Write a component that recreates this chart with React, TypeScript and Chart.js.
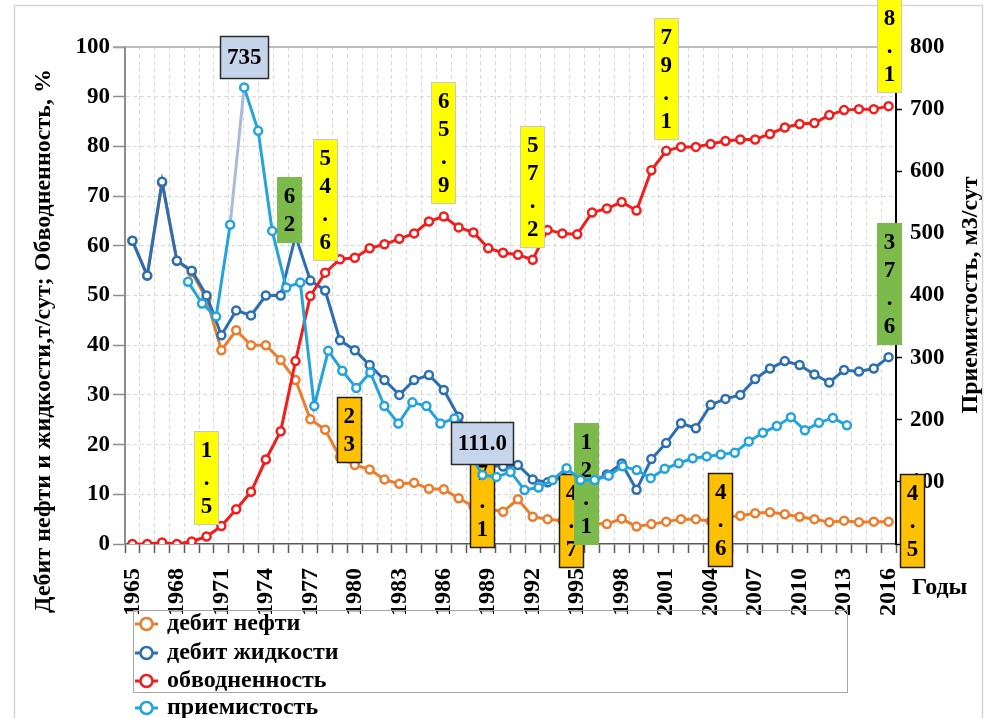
import React, { useEffect, useRef } from 'react';
import { Chart, registerables } from 'chart.js';

Chart.register(...registerables);

// ---------------- data ----------------
const YEARS = [
  '1965', '1966', '1967', '1968', '1969', '1970', '1971', '1972', '1973', '1974',
  '1975', '1976', '1977', '1978', '1979', '1980', '1981', '1982', '1983', '1984',
  '1985', '1986', '1987', '1988', '1989', '1990', '1991', '1992', '1993', '1994',
  '1995', '1996', '1997', '1998', '1999', '2000', '2001', '2002', '2003', '2004',
  '2005', '2006', '2007', '2008', '2009', '2010', '2011', '2012', '2013', '2014',
  '2015', '2016',
];

// secondary (hidden) category axis used by the injectivity series
const INJ_SLOTS = [
  '1', '2', '3', '4', '5', '6', '7', '8', '9', '10',
  '11', '12', '13', '14', '15', '16', '17', '18', '19', '20',
  '21', '22', '23', '24', '25', '26', '27', '28', '29', '30',
  '31', '32', '33', '34', '35', '36', '37', '38', '39', '40',
  '41', '42', '43', '44', '45', '46', '47', '48', '49', '50',
  '51', '52', '53', '54', '55',
];

const OIL_RATE = [
  61, 54, 72.7, 57, 54.7, 49.3, 39, 43, 40, 40,
  37, 33, 25.1, 23, 17.5, 15.9, 15, 13, 12.1, 12.3,
  11.1, 11, 9.2, 7.6, 7.1, 6.5, 9, 5.5, 5, 4.7,
  4.6, 4.2, 4, 5.1, 3.5, 4, 4.5, 5, 5, 4.6,
  5.4, 5.7, 6.2, 6.4, 6, 5.5, 5, 4.4, 4.7, 4.4,
  4.5, 4.5,
];

const LIQUID_RATE = [
  61, 54, 72.9, 57, 55, 50, 42, 47, 46, 50,
  50, 62, 53, 51, 41, 39, 36, 33, 30, 33,
  34, 31, 25.6, 20.5, 15.8, 15.6, 15.9, 13, 12.4, 13.5,
  12.1, 12.5, 14, 16.2, 10.9, 17.1, 20.3, 24.3, 23.3, 28,
  29.2, 30, 33.2, 35.3, 36.8, 36, 34.1, 32.5, 35, 34.7,
  35.3, 37.6,
];

const WATER_CUT = [
  0, 0, 0.3, 0, 0.5, 1.5, 3.6, 7, 10.5, 17,
  22.7, 36.8, 49.9, 54.6, 57.3, 57.6, 59.5, 60.3, 61.4, 62.5,
  64.9, 65.9, 63.7, 62.7, 59.5, 58.6, 58.2, 57.2, 63.2, 62.5,
  62.3, 66.7, 67.5, 68.8, 67.1, 75.2, 79.1, 79.9, 79.9, 80.5,
  81.1, 81.4, 81.4, 82.5, 83.8, 84.5, 84.7, 86.3, 87.3, 87.5,
  87.5, 88.1,
];

const INJECTIVITY = [
  null, null, null, null,
  422, 387, 366, 514, 735, 665, 504, 413, 421, 222,
  311, 279, 251, 276, 222, 194, 228, 222, 194, 202,
  150, 111, 108, 116, 87, 91, 103, 122, 103, 103,
  110, 125, 119, 106, 121, 130, 138, 141, 144, 147,
  165, 179, 190, 204, 183, 195, 203, 191,
  null, null, null,
];

const SERIES_NAMES = ['дебит нефти', 'дебит жидкости', 'обводненность', 'приемистость'];
const LEFT_TITLE = 'Дебит нефти и жидкости,т/сут; Обводненность, %';
const RIGHT_TITLE = 'Приемистость, м3/сут';
const X_TITLE = 'Годы';

// ---------------- styles ----------------
const SERIF = '"Liberation Serif", "Times New Roman", serif';
const COLORS = ['#EA7D2E', '#2B6FB1', '#F21D1D', '#25A4DC'];
const PALE_SEGMENT = '#A9BBDD';

const BOX_STYLES: any = {
  yellow: { fill: '#FFFF00', stroke: '#C8C8C8', lw: 1 },
  orange: { fill: '#FFC000', stroke: '#1E1E1E', lw: 1.5 },
  green: { fill: '#7CBB4B', stroke: null, lw: 0 },
  steel: { fill: '#C6D5EC', stroke: '#2B2B2B', lw: 1.5 },
};

// data-label boxes, anchored at the library's point elements
const PRIMARY_LABELS = [
  { series: 2, index: 5, kind: 'yellow', dx: 0, dy: -59 },
  { series: 2, index: 13, kind: 'yellow', dx: 0, dy: -73 },
  { series: 2, index: 21, kind: 'yellow', dx: 0, dy: -73 },
  { series: 2, index: 27, kind: 'yellow', dx: 0, dy: -73 },
  { series: 2, index: 36, kind: 'yellow', dx: 0, dy: -72 },
  { series: 2, index: 51, kind: 'yellow', dx: 1, dy: -74 },
  { series: 0, index: 13, kind: 'orange', dx: 24, dy: 0 },
  { series: 0, index: 24, kind: 'orange', dx: -6, dy: -8 },
  { series: 0, index: 29, kind: 'orange', dx: 9, dy: 0 },
  { series: 0, index: 39, kind: 'orange', dx: 10, dy: -1 },
  { series: 0, index: 51, kind: 'orange', dx: 24, dy: -1 },
  { series: 1, index: 11, kind: 'green', dx: -6, dy: -26 },
  { series: 1, index: 30, kind: 'green', dx: 9, dy: 0 },
  { series: 1, index: 51, kind: 'green', dx: 1, dy: -73 },
];
const SECONDARY_LABELS = [
  { series: 3, index: 8, kind: 'steel', dx: 0, dy: -30, horizontal: true },
  { series: 3, index: 25, kind: 'steel', dx: 0, dy: -32, horizontal: true, decimals: 1 },
];

function drawLabelBox(chart: any, lab: any) {
  const ctx = chart.ctx;
  const el = chart.getDatasetMeta(lab.series).data[lab.index];
  const value = chart.data.datasets[lab.series].data[lab.index];
  if (!el || value == null) return;
  const text = lab.decimals != null ? Number(value).toFixed(lab.decimals) : String(value);
  const cx = el.x + lab.dx;
  const cy = el.y + lab.dy;
  ctx.save();
  ctx.font = `bold 23px ${SERIF}`;
  const chars = text.split('');
  let w: number;
  let h: number;
  if (lab.horizontal) {
    w = Math.round(ctx.measureText(text).width + 14);
    h = 43;
  } else {
    w = 25;
    h = chars.length * 28 + 10;
  }
  const x = Math.round(cx - w / 2);
  const y = Math.round(cy - h / 2);
  const st = BOX_STYLES[lab.kind];
  ctx.fillStyle = st.fill;
  ctx.fillRect(x, y, w, h);
  if (st.stroke) {
    ctx.strokeStyle = st.stroke;
    ctx.lineWidth = st.lw;
    ctx.strokeRect(x + 0.5, y + 0.5, w - 1, h - 1);
  }
  ctx.fillStyle = '#000';
  ctx.textAlign = 'center';
  ctx.textBaseline = 'middle';
  if (lab.horizontal) {
    ctx.fillText(text, cx, y + h / 2 + 1);
  } else {
    chars.forEach((c: string, k: number) => ctx.fillText(c, cx, y + 20 + 28 * k));
  }
  ctx.restore();
}

const decorPlugin = {
  id: 'decor',
  beforeDraw(chart: any) {
    const ctx = chart.ctx;
    ctx.save();
    ctx.fillStyle = '#fff';
    ctx.fillRect(0, 0, chart.width, chart.height);
    ctx.strokeStyle = '#D6D6D6';
    ctx.lineWidth = 1.5;
    ctx.strokeRect(14.5, 5.5, 968, 760);
    ctx.restore();
  },
  beforeDatasetsDraw(chart: any) {
    const { ctx, chartArea } = chart;
    ctx.save();
    ctx.strokeStyle = '#A6A6A6';
    ctx.lineWidth = 1.5;
    ctx.beginPath();
    ctx.moveTo(chartArea.left - 12, chartArea.top);
    ctx.lineTo(chartArea.right, chartArea.top);
    ctx.stroke();
    ctx.restore();
  },
  afterDatasetDraw(chart: any, args: any) {
    if (args.index === 2) {
      PRIMARY_LABELS.forEach((l) => drawLabelBox(chart, l));
    }
  },
  afterDatasetsDraw(chart: any) {
    SECONDARY_LABELS.forEach((l) => drawLabelBox(chart, l));
  },
  afterDraw(chart: any) {
    const ctx = chart.ctx;
    ctx.save();
    ctx.fillStyle = '#000';
    // axis titles
    ctx.font = `bold 24px ${SERIF}`;
    ctx.textAlign = 'center';
    ctx.textBaseline = 'middle';
    ctx.save();
    ctx.translate(44, 341);
    ctx.rotate(-Math.PI / 2);
    ctx.fillText(LEFT_TITLE, 0, 0);
    ctx.restore();
    ctx.save();
    ctx.translate(971, 295);
    ctx.rotate(-Math.PI / 2);
    ctx.fillText(RIGHT_TITLE, 0, 0);
    ctx.restore();
    ctx.textAlign = 'left';
    ctx.textBaseline = 'alphabetic';
    ctx.fillText(X_TITLE, 912, 594);

    // legend
    ctx.strokeStyle = '#A6A6A6';
    ctx.lineWidth = 1;
    ctx.strokeRect(133.5, 610.5, 714, 82);
    const rowsY = [624, 653, 681, 708];
    SERIES_NAMES.forEach((name, i) => {
      const y = rowsY[i];
      ctx.strokeStyle = COLORS[i];
      ctx.lineWidth = 3;
      ctx.beginPath();
      ctx.moveTo(135, y);
      ctx.lineTo(158, y);
      ctx.stroke();
      ctx.beginPath();
      ctx.arc(146.5, y, 6, 0, Math.PI * 2);
      ctx.fillStyle = '#fff';
      ctx.fill();
      ctx.lineWidth = 2.5;
      ctx.stroke();
      ctx.fillStyle = '#000';
      ctx.font = `bold 24px ${SERIF}`;
      ctx.fillText(name, 167, y + 6);
    });
    ctx.restore();
  },
};

const tickFont = { family: SERIF, size: 23, weight: 'bold' as const };

export default function App() {
  const canvasRef = useRef<HTMLCanvasElement | null>(null);

  useEffect(() => {
    if (!canvasRef.current) return;
    const mk = (i: number) => ({
      borderColor: COLORS[i],
      backgroundColor: '#fff',
      pointBackgroundColor: '#fff',
      pointBorderColor: COLORS[i],
      pointRadius: 4,
      pointBorderWidth: 2.5,
      borderWidth: 3,
      fill: false,
      tension: 0,
    });
    const chart = new Chart(canvasRef.current, {
      type: 'line',
      data: {
        labels: YEARS,
        datasets: [
          { ...mk(0), label: SERIES_NAMES[0], data: OIL_RATE, xAxisID: 'x', yAxisID: 'y', order: 4 },
          { ...mk(1), label: SERIES_NAMES[1], data: LIQUID_RATE, xAxisID: 'x', yAxisID: 'y', order: 3 },
          { ...mk(2), label: SERIES_NAMES[2], data: WATER_CUT, xAxisID: 'x', yAxisID: 'y', order: 2 },
          {
            ...mk(3),
            label: SERIES_NAMES[3],
            data: INJECTIVITY,
            xAxisID: 'x2',
            yAxisID: 'y1',
            order: 1,
            segment: {
              borderColor: (c: any) => (c.p1DataIndex === 8 ? PALE_SEGMENT : undefined),
            },
          } as any,
        ],
      },
      options: {
        responsive: false,
        maintainAspectRatio: false,
        animation: false,
        devicePixelRatio: 1,
        layout: { padding: { top: 47, left: 0, right: 0, bottom: 0 } },
        plugins: { legend: { display: false }, tooltip: { enabled: false } },
        scales: {
          x: {
            type: 'category',
            labels: YEARS,
            position: 'bottom',
            offset: true,
            grid: {
              color: '#D9D9D9',
              lineWidth: 1,
              offset: true,
              tickLength: 9,
              tickColor: '#595959',
              tickWidth: 1.5,
            },
            border: { display: true, color: '#595959', width: 1.5, dash: [4, 3] },
            ticks: {
              autoSkip: false,
              minRotation: 90,
              maxRotation: 90,
              padding: 15,
              color: '#000',
              font: { family: SERIF, size: 24, weight: 'bold' },
              callback: (_v: any, i: number) => (i % 3 === 0 ? YEARS[i] : ''),
            },
            afterFit: (s: any) => {
              s.height = 174;
            },
          },
          x2: {
            type: 'category',
            labels: INJ_SLOTS,
            offset: true,
            display: false,
          },
          y: {
            position: 'left',
            min: 0,
            max: 100,
            grid: {
              color: (c: any) => (c.tick && (c.tick.value === 0 || c.tick.value === 100) ? 'rgba(0,0,0,0)' : '#D9D9D9'),
              tickLength: 12,
              tickColor: '#8C8C8C',
              tickWidth: 1.5,
            },
            border: { display: true, color: '#8C8C8C', width: 2, dash: [4, 3] },
            ticks: { stepSize: 10, padding: 3, color: '#000', font: tickFont },
            afterFit: (s: any) => {
              s.width = 125;
            },
          },
          y1: {
            position: 'right',
            min: 0,
            max: 800,
            grid: { drawOnChartArea: false, tickLength: 6, tickColor: '#000', tickWidth: 1.5 },
            border: { display: true, color: '#000', width: 2 },
            ticks: { stepSize: 100, padding: 8, color: '#000', font: tickFont },
            afterFit: (s: any) => {
              s.width = 96;
            },
          },
        } as any,
      },
      plugins: [decorPlugin as any],
    });
    return () => chart.destroy();
  }, []);

  return (
    <div style={{ position: 'absolute', left: 0, top: 0, width: 992, height: 718, overflow: 'hidden', background: '#fff' }}>
      <canvas ref={canvasRef} width={992} height={718} style={{ display: 'block', width: 992, height: 718 }} />
    </div>
  );
}
